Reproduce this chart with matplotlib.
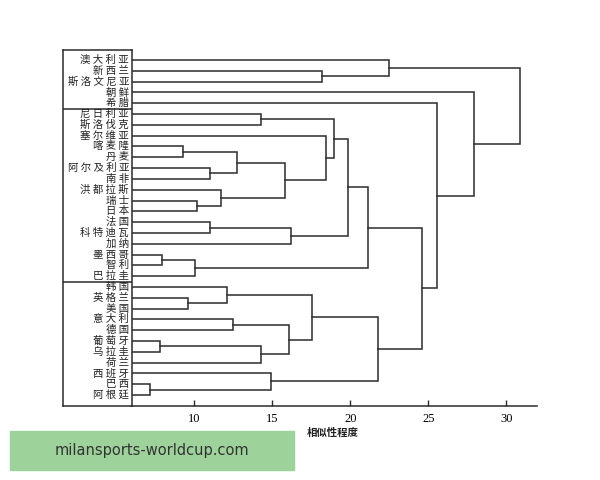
import matplotlib
matplotlib.use('Agg')
import matplotlib.pyplot as plt
from matplotlib.patches import Rectangle

plt.rcParams['font.family'] = ['Noto Sans CJK SC', 'DejaVu Sans']

# 叶节点（自上而下）
labels = ['澳大利亚', '新西兰', '斯洛文尼亚', '朝鲜', '希腊',
          '尼日利亚', '斯洛伐克', '塞尔维亚', '喀麦隆', '丹麦', '阿尔及利亚', '南非',
          '洪都拉斯', '瑞士', '日本', '法国', '科特迪瓦', '加纳', '墨西哥', '智利', '巴拉圭',
          '韩国', '英格兰', '美国', '意大利', '德国', '葡萄牙', '乌拉圭', '荷兰',
          '西班牙', '巴西', '阿根廷']
group_sizes = [5, 16, 11]

# 合并步骤：(左, 右, 相似性程度)，整数表示前面第几次合并
merges = [
    ('喀麦隆', '丹麦', 9.29),
    ('阿尔及利亚', '南非', 11.0),
    (0, 1, 12.72),
    ('瑞士', '日本', 10.15),
    ('洪都拉斯', 3, 11.71),
    (2, 4, 15.81),
    ('塞尔维亚', 5, 18.42),
    ('尼日利亚', '斯洛伐克', 14.25),
    (7, 6, 18.96),
    ('法国', '科特迪瓦', 11.0),
    (9, '加纳', 16.18),
    (8, 10, 19.87),
    ('墨西哥', '智利', 7.91),
    (12, '巴拉圭', 10.04),
    (11, 13, 21.15),
    ('英格兰', '美国', 9.62),
    ('韩国', 15, 12.12),
    ('意大利', '德国', 12.46),
    ('葡萄牙', '乌拉圭', 7.8),
    (18, '荷兰', 14.28),
    (17, 19, 16.07),
    (16, 20, 17.52),
    ('巴西', '阿根廷', 7.16),
    ('西班牙', 22, 14.9),
    (21, 23, 21.8),
    (14, 24, 24.62),
    ('希腊', 25, 25.54),
    ('朝鲜', 26, 27.93),
    ('新西兰', '斯洛文尼亚', 18.17),
    ('澳大利亚', 28, 22.5),
    (29, 27, 30.88),
]

xticks = [10, 15, 20, 25, 30]
xlabel = '相似性程度'
watermark = 'milansports-worldcup.com'

W, H = 600, 480
fig = plt.figure(figsize=(6, 4.8), dpi=100)
lc = '#2b2b2b'

bottom = 1 - 406 / H
top = 1 - 50 / H
ylim = (len(labels) - 1 + 1.02, -0.93)

ax = fig.add_axes([131 / W, bottom, (537 - 131) / W, top - bottom])
ax.set_xlim(5.94, 31.97)
ax.set_ylim(*ylim)

pos = {name: (0.0, i) for i, name in enumerate(labels)}
nodes = []
def get(c):
    return nodes[c] if isinstance(c, int) else pos[c]

for a, b, h in merges:
    xa, ya = get(a)
    xb, yb = get(b)
    ax.plot([xa, h, h, xb], [ya, ya, yb, yb], color=lc, lw=1.1,
            solid_joinstyle='miter')
    nodes.append((h, (ya + yb) / 2))

for s in ['top', 'right', 'left']:
    ax.spines[s].set_visible(False)
ax.spines['bottom'].set_color(lc)
ax.spines['bottom'].set_linewidth(1.1)
ax.set_yticks([])
ax.set_xticks(xticks)
ax.tick_params(axis='x', direction='in', length=4.5, width=1.0, color=lc, pad=5)
for t in ax.get_xticklabels():
    t.set_family('Liberation Serif')
    t.set_fontsize(9)

# 左侧标签框
axl = fig.add_axes([63.3 / W, bottom, (131.7 - 63.3) / W, top - bottom])
axl.set_xlim(0, 1)
axl.set_ylim(*ylim)
axl.set_xticks([])
axl.set_yticks([])
for s in axl.spines.values():
    s.set_color(lc)
    s.set_linewidth(1.1)
cum = 0
for g in group_sizes[:-1]:
    cum += g
    axl.axhline(cum - 0.5, color=lc, lw=1.1)
for i, name in enumerate(labels):
    axl.text(0.96, i, ' '.join(name), ha='right', va='center', fontsize=7.5,
             color='#222222')

fig.text(333 / W, 1 - 433 / H, xlabel, ha='center', va='center',
         fontsize=7.5, fontweight='bold', color='#222222')

# 水印
fig.patches.append(Rectangle((10 / W, 1 - 470 / H), 284 / W, 39 / H,
                             transform=fig.transFigure, color='#9dd29b', zorder=0))
fig.text(152 / W, 1 - 450 / H, watermark, ha='center', va='center',
         fontsize=10.5, color='#333333', family='DejaVu Sans')

fig.savefig('out.png', dpi=100)
